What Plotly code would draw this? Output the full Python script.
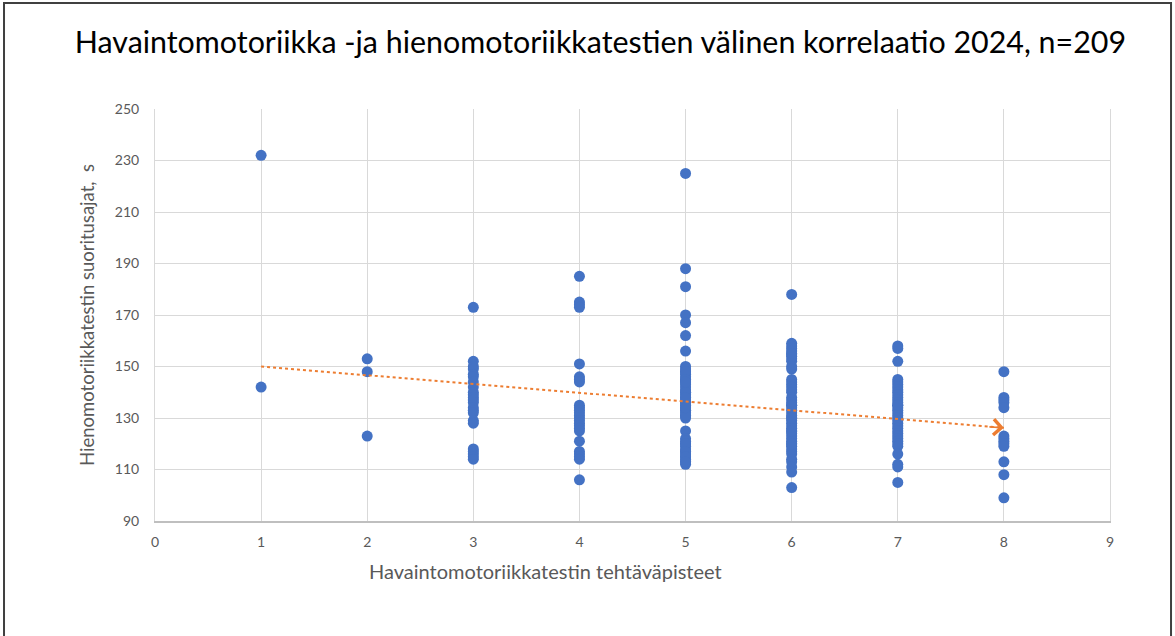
import plotly.graph_objects as go

# Havaintomotoriikan pisteet (x) ja hienomotoriikan suoritusajat (y), luettu kuvasta
scores_1 = [232, 142]
scores_2 = [153, 148, 123]
scores_3 = [173, 152, 150, 149, 147, 146, 144, 142, 140, 139, 138, 137, 136, 134, 133, 132, 129, 128,
            118, 117, 116, 115, 114]
scores_4 = [185, 175, 174, 173, 151, 146, 145, 144, 135, 134, 133, 132, 131, 130, 129, 128, 127, 126,
            125, 121, 117, 116, 115, 114, 106]
scores_5 = [225, 188, 181, 170, 167, 162, 156, 150, 149, 148, 147, 146, 145, 144, 143, 142, 141, 140,
            139, 138, 137, 136, 135, 134, 133, 132, 131, 130, 125, 122, 121, 120, 119, 118, 117, 116,
            115, 114, 113, 112, 148, 145, 140, 136, 133, 131, 120, 117, 115, 113, 144, 138, 134]
scores_6 = [178, 159, 158, 157, 156, 155, 154, 153, 152, 150, 149, 145, 144, 143, 142, 141, 140, 138,
            137, 136, 135, 134, 133, 132, 131, 130, 129, 128, 127, 126, 125, 124, 123, 122, 121, 120,
            119, 118, 117, 116, 114, 113, 111, 109, 103, 135, 130, 125, 120, 155]
scores_7 = [158, 157, 152, 145, 144, 143, 142, 141, 140, 139, 138, 137, 136, 135, 134, 133, 132, 131,
            130, 129, 128, 127, 126, 125, 124, 123, 122, 121, 120, 119, 116, 112, 111, 105, 135]
scores_8 = [148, 138, 137, 136, 134, 123, 122, 121, 120, 119, 113, 108, 99]

groups = [scores_1, scores_2, scores_3, scores_4, scores_5, scores_6, scores_7, scores_8]
points_x = []
points_y = []
for score, times in enumerate(groups, start=1):
    points_x += [score] * len(times)
    points_y += times

# trendiviiva (lineaarinen), päätepisteet luettu kuvasta
trend_x = [1, 8]
trend_y = [150, 126.2]

x_ticks = list(range(0, 10))
y_ticks = list(range(90, 251, 20))

GRAY = "#595959"
BLUE = "#4472C4"
ORANGE = "#ED7D31"
GRID = "#D9D9D9"
FONT = "Lato, Liberation Sans, sans-serif"

fig = go.Figure()
fig.add_trace(go.Scatter(x=points_x, y=points_y, mode="markers",
                         marker=dict(color=BLUE, size=11, line=dict(width=0)),
                         showlegend=False, hoverinfo="x+y"))
fig.add_trace(go.Scatter(x=trend_x, y=trend_y, mode="lines",
                         line=dict(color=ORANGE, width=2, dash="dot"),
                         showlegend=False, hoverinfo="skip"))

# avoin nuolenkärki trendiviivan päähän
fig.add_annotation(x=trend_x[-1], y=trend_y[-1], xref="x", yref="y",
                   ax=-16, ay=-1, showarrow=True, arrowhead=4, arrowsize=1.8,
                   arrowwidth=1.7, arrowcolor=ORANGE, text="")

fig.add_annotation(text="Havaintomotoriikkatestin tehtäväpisteet", xref="paper", yref="paper",
                   x=0.409, y=-0.121, showarrow=False, xanchor="center", yanchor="middle",
                   font=dict(family=FONT, size=20, color=GRAY))

# kuvan kehys
fig.add_shape(type="rect", xref="paper", yref="paper", x0=-0.1581, x1=1.0639, y0=-0.4, y1=1.2573,
              line=dict(color="#404040", width=2), fillcolor="rgba(0,0,0,0)", layer="below")

fig.update_layout(
    width=1175, height=636,
    margin=dict(l=155, r=65, t=109, b=115),
    paper_bgcolor="white", plot_bgcolor="white",
    title=dict(text="Havaintomotoriikka -ja hienomotoriikkatestien välinen korrelaatio 2024, n=209",
               x=0.511, xref="container", xanchor="center", y=0.934, yanchor="middle",
               font=dict(family=FONT, size=30.4, color="#000000")),
    xaxis=dict(range=[0, 9], tickvals=x_ticks, showgrid=True, gridcolor=GRID, gridwidth=1,
               zeroline=False, showline=True, linecolor="#BFBFBF", linewidth=1.5,
               ticks="", ticklabelstandoff=7,
               tickfont=dict(family=FONT, size=14, color=GRAY)),
    yaxis=dict(range=[90, 250], tickvals=y_ticks, showgrid=True, gridcolor=GRID, gridwidth=1,
               zeroline=False, showline=True, linecolor=GRID, mirror=True, linewidth=1,
               ticks="", ticklabelstandoff=12,
               tickfont=dict(family=FONT, size=14, color=GRAY),
               title=dict(text="Hienomotoriikkatestin suoritusajat,  s", standoff=15,
                          font=dict(family=FONT, size=18.5, color=GRAY))),
)

fig.write_html("out.html", config={"displayModeBar": False},
               post_script="document.body.style.margin='0px';")
